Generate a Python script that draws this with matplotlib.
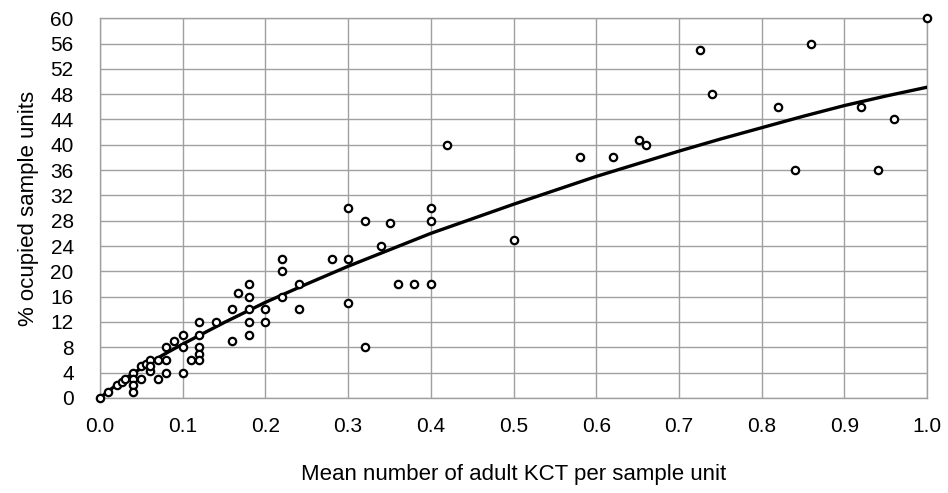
import matplotlib.pyplot as plt
import numpy as np

plt.rcParams['font.family'] = ['Liberation Sans', 'DejaVu Sans']

# ── DATA ─────────────────────────────────────────────────────────────
mean_kct = [0.0, 0.01, 0.02, 0.026, 0.03, 0.04, 0.04, 0.04, 0.04,
            0.05, 0.05, 0.055, 0.06, 0.06, 0.07, 0.06, 0.07,
            0.08, 0.08, 0.08, 0.09, 0.10, 0.10, 0.10, 0.11,
            0.12, 0.12, 0.12, 0.12, 0.12, 0.14,
            0.16, 0.16, 0.167, 0.18, 0.18, 0.18, 0.18, 0.18,
            0.20, 0.20, 0.22, 0.22, 0.22, 0.24, 0.24,
            0.28, 0.30, 0.30, 0.30, 0.32, 0.32, 0.34, 0.35,
            0.36, 0.38, 0.40, 0.40, 0.40, 0.42, 0.50,
            0.58, 0.62, 0.652, 0.66, 0.725, 0.74,
            0.82, 0.84, 0.86, 0.92, 0.94, 0.96, 1.0]
pct_occupied = [0, 1, 2, 2.5, 3, 4, 3, 2, 1,
                3, 5, 5.4, 6, 4.2, 6, 5, 3,
                4, 6, 8, 9, 10, 8, 4, 6,
                12, 10, 8, 7, 6, 12,
                9, 14, 16.6, 18, 16, 14, 12, 10,
                14, 12, 22, 20, 16, 18, 14,
                22, 30, 22, 15, 28, 8, 24, 27.6,
                18, 18, 18, 30, 28, 40, 25,
                38, 38, 40.8, 40, 55, 48,
                46, 36, 56, 46, 36, 44, 60]

# fitted curve
curve_x = [0.0, 0.025, 0.05, 0.075, 0.1, 0.15, 0.2, 0.25, 0.3, 0.35, 0.4,
           0.45, 0.5, 0.55, 0.6, 0.65, 0.7, 0.75, 0.8, 0.85, 0.9, 0.95, 1.0]
curve_y = [0.0, 2.6, 4.7, 6.7, 8.5, 11.9, 15.1, 18.0, 20.8, 23.4, 26.0,
           28.3, 30.6, 32.8, 35.0, 37.0, 39.0, 40.9, 42.7, 44.5, 46.2, 47.7, 49.1]

# ── PLOT ──────────────────────────────────────────────────────────────
fig, ax = plt.subplots(figsize=(9.48, 4.93), dpi=100)
fig.subplots_adjust(left=0.1055, right=0.978, top=0.963, bottom=0.193)

ax.plot(curve_x, curve_y, color='black', linewidth=2.4, zorder=3)
ax.scatter(mean_kct, pct_occupied, s=28, facecolors='white',
           edgecolors='black', linewidths=1.6, zorder=4, clip_on=False)

ax.set_xlim(0, 1.0)
ax.set_ylim(0, 60)
ax.set_xticks(np.arange(0, 1.01, 0.1))
ax.set_xticklabels([f"{v:.1f}" for v in np.arange(0, 1.01, 0.1)])
ax.set_yticks(np.arange(0, 61, 4))
ax.grid(True, color='#a0a0a0', linewidth=1.0)
ax.set_axisbelow(True)
for side in ['top', 'right', 'left', 'bottom']:
    ax.spines[side].set_color('#a0a0a0')
    ax.spines[side].set_linewidth(1.0)
ax.tick_params(length=0, labelsize=15, pad=19)
ax.tick_params(axis='x', pad=14)

ax.set_xlabel("Mean number of adult KCT per sample unit", fontsize=16, labelpad=20)
ax.set_ylabel("% ocupied sample units", fontsize=16, labelpad=8)

plt.savefig("out.png", dpi=100)
